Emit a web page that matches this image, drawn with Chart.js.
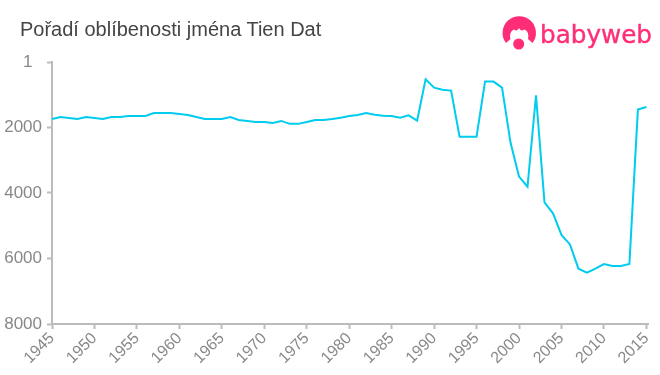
<!DOCTYPE html>
<html>
<head>
<meta charset="utf-8">
<title>Pořadí oblíbenosti jména Tien Dat</title>
<script src="https://cdn.jsdelivr.net/npm/chart.js@4"></script>
<style>
    html, body { margin: 0; padding: 0; background: #fff; }
    #wrap { position: relative; width: 660px; height: 375px; overflow: hidden; }
    #chartTitle { position: absolute; left: 20px; top: 19px; font: 20px 'Liberation Sans', sans-serif; color: #444; line-height: 21px; white-space: nowrap; }
    #logo { position: absolute; left: 495px; top: 10px; }
</style>
</head>
<body>
<div id="wrap">
    <canvas id="rankChart" width="660" height="375"></canvas>
    <div id="chartTitle">Pořadí oblíbenosti jména Tien Dat</div>
    <svg id="logo" width="165" height="48" viewBox="0 0 165 48">
        <path d="M11 33 A16.7 16.7 0 1 1 37.5 33 L33 29 C34 25 33 21 29.5 19.5 C27 21 26 21 24 18 C22 21 21 21 19 19.5 C15.5 21 14.5 25 15.5 29 Z" fill="#ff2d78"/>
        <circle cx="23.7" cy="34" r="5.5" fill="#ff2d78"/>
        <text x="45" y="33" font-family="'DejaVu Sans', sans-serif" font-size="25" fill="#ff2d78" stroke="#ff2d78" stroke-width="0.4" textLength="112" lengthAdjust="spacingAndGlyphs">babyweb</text>
    </svg>
</div>
<script>
const years = [1945, 1946, 1947, 1948, 1949, 1950, 1951, 1952, 1953, 1954,
    1955, 1956, 1957, 1958, 1959, 1960, 1961, 1962, 1963, 1964,
    1965, 1966, 1967, 1968, 1969, 1970, 1971, 1972, 1973, 1974,
    1975, 1976, 1977, 1978, 1979, 1980, 1981, 1982, 1983, 1984,
    1985, 1986, 1987, 1988, 1989, 1990, 1991, 1992, 1993, 1994,
    1995, 1996, 1997, 1998, 1999, 2000, 2001, 2002, 2003, 2004,
    2005, 2006, 2007, 2008, 2009, 2010, 2011, 2012, 2013, 2014, 2015];
const ranks = [1740, 1680, 1710, 1740, 1680, 1710, 1740, 1680, 1680, 1650,
    1650, 1650, 1557, 1557, 1557, 1590, 1620, 1680, 1740, 1740,
    1740, 1680, 1770, 1800, 1830, 1830, 1860, 1800, 1890, 1890,
    1830, 1770, 1770, 1740, 1700, 1650, 1620, 1560, 1610, 1640,
    1650, 1700, 1630, 1790, 530, 785, 845, 875, 2280, 2280,
    2280, 600, 600, 785, 2460, 3500, 3810, 1020, 4285, 4620,
    5280, 5570, 6310, 6430, 6310, 6170, 6230, 6230, 6170, 1455, 1375];
const yTicks = [1, 2000, 4000, 6000, 8000];
const xTicks = [1945, 1950, 1955, 1960, 1965, 1970, 1975, 1980, 1985, 1990, 1995, 2000, 2005, 2010, 2015];

const axisColor = '#bbbbbb';
const labelColor = '#888888';

new Chart(document.getElementById('rankChart'), {
    type: 'line',
    data: {
        datasets: [{
            data: years.map((year, i) => ({ x: year, y: ranks[i] })),
            borderColor: '#00ccee',
            borderWidth: 2,
            pointRadius: 0,
            tension: 0,
            fill: false
        }]
    },
    options: {
        responsive: false,
        animation: false,
        layout: { padding: { left: 0, right: 11, top: 62, bottom: 0 } },
        plugins: {
            legend: { display: false },
            tooltip: { enabled: false }
        },
        scales: {
            x: {
                type: 'linear',
                min: 1945,
                max: 2015.3,
                afterBuildTicks: axis => { axis.ticks = xTicks.map(value => ({ value })); },
                afterFit: axis => { axis.height = 51; },
                border: { color: axisColor, width: 2 },
                grid: { drawOnChartArea: false, color: axisColor, tickLength: 5, tickWidth: 2 },
                ticks: {
                    autoSkip: false,
                    minRotation: 45,
                    maxRotation: 45,
                    padding: 0,
                    color: labelColor,
                    font: { family: 'Liberation Sans', size: 16 },
                    callback: value => String(value)
                }
            },
            y: {
                reverse: true,
                min: 1,
                max: 8000,
                afterBuildTicks: axis => { axis.ticks = yTicks.map(value => ({ value })); },
                afterFit: axis => { axis.width = 52; },
                border: { color: axisColor, width: 2 },
                grid: { drawOnChartArea: false, color: axisColor, tickLength: 5, tickWidth: 2 },
                ticks: {
                    padding: 5,
                    color: labelColor,
                    font: { family: 'Liberation Sans', size: 17 },
                    // the reference's "1" sits further left than the other labels
                    callback: value => value === 1 ? '1  ' : String(value)
                }
            }
        }
    }
});
</script>
</body>
</html>
